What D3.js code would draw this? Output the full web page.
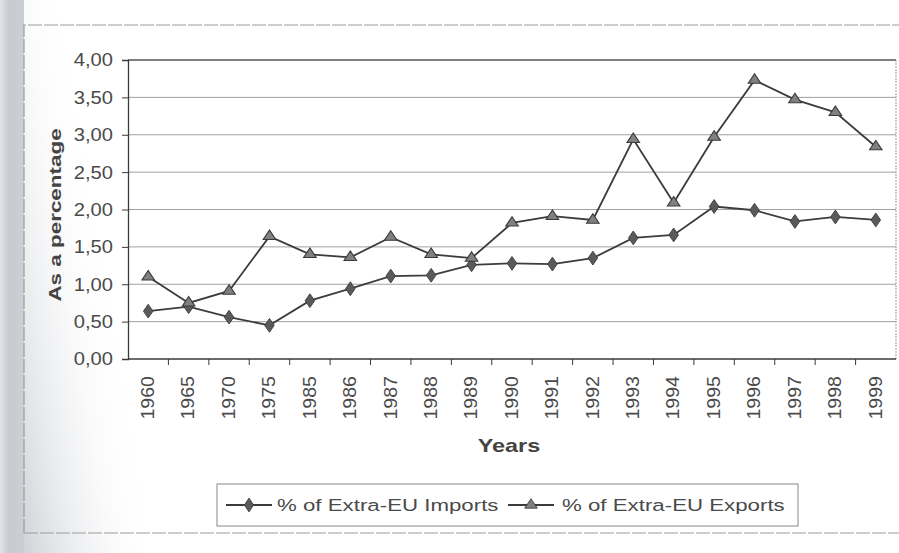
<html>
<head>
  <script src="https://d3js.org/d3.v7.min.js"></script>
  <style>
  body{ margin:0; background:#fff; }
  svg{ display:block; font-family:"Liberation Sans", Arial, sans-serif; }
  </style>
</head>
<body>
  <svg id="chart"></svg>
  <script type="text/javascript">
    // values
    var years = ["1960","1965","1970","1975","1985","1986","1987","1988","1989","1990",
                 "1991","1992","1993","1994","1995","1996","1997","1998","1999"];
    var imports = [0.64,0.70,0.56,0.45,0.78,0.94,1.11,1.12,1.26,1.28,
                   1.27,1.35,1.62,1.66,2.04,1.99,1.84,1.90,1.86];
    var exports = [1.10,0.75,0.91,1.64,1.40,1.36,1.63,1.40,1.35,1.82,
                   1.91,1.86,2.94,2.09,2.97,3.73,3.47,3.30,2.84];
    var yTicks = [0,0.5,1,1.5,2,2.5,3,3.5,4];
    var seriesNames = ["% of Extra-EU Imports","% of Extra-EU Exports"];

    var width = 899, height = 553;
    var plotL = 128, plotR = 896, plotT = 60, plotB = 359;
    var ink = "#3a3a3a";
    var textCol = "#4a4a4a";

    var svg = d3.select("#chart").attr("width", width).attr("height", height);

    // scan shadow on the left edge
    var defs = svg.append("defs");
    var g1 = defs.append("linearGradient").attr("id","edge");
    g1.append("stop").attr("offset","0%").attr("stop-color","#e2e4e8");
    g1.append("stop").attr("offset","35%").attr("stop-color","#c8ccd1");
    g1.append("stop").attr("offset","100%").attr("stop-color","#cbcfd4");
    var g2 = defs.append("linearGradient").attr("id","fade")
        .attr("x1","0").attr("y1","1").attr("x2","0.7").attr("y2","0.45");
    g2.append("stop").attr("offset","0%").attr("stop-color","#c4c8ce").attr("stop-opacity",0.8);
    g2.append("stop").attr("offset","100%").attr("stop-color","#ffffff").attr("stop-opacity",0);

    svg.append("rect").attr("x",0).attr("y",0).attr("width",24).attr("height",height).attr("fill","url(#edge)");
    svg.append("rect").attr("x",24).attr("y",0).attr("width",120).attr("height",height).attr("fill","url(#fade)");

    // outer chart frame
    svg.append("path")
       .attr("d","M24,533 L24,25 L899,25 M24,533 L899,533")
       .attr("fill","none").attr("stroke","#9c9c9c").attr("stroke-width",1.2)
       .attr("stroke-dasharray","14,2");

    var x = d3.scaleBand().domain(years).range([plotL, plotR]).padding(0);
    var y = d3.scaleLinear().domain([0, 4]).range([plotB, plotT]);
    var cx = function(d){ return x(d) + x.bandwidth()/2; };

    // gridlines
    svg.append("g").selectAll("line")
       .data(yTicks.slice(1))
       .enter().append("line")
       .attr("x1", plotL).attr("x2", plotR)
       .attr("y1", function(d){ return y(d); })
       .attr("y2", function(d){ return y(d); })
       .attr("stroke", function(d){ return d === 4 ? "#555" : "#a0a0a0"; })
       .attr("stroke-width", function(d){ return d === 4 ? 1.4 : 1; });

    // right border of plot
    svg.append("line").attr("x1",plotR).attr("x2",plotR).attr("y1",plotT).attr("y2",plotB)
       .attr("stroke","#999").attr("stroke-dasharray","2,1");

    // y axis
    var yAxis = d3.axisLeft(y).tickValues(yTicks).tickSize(6).tickFormat("");
    var ya = svg.append("g").attr("transform","translate(" + plotL + ",0)").call(yAxis);
    ya.select(".domain").attr("stroke", ink).attr("stroke-width",1.3);
    ya.selectAll(".tick line").attr("stroke", ink);

    svg.append("g").selectAll("text")
       .data(yTicks)
       .enter().append("text")
       .attr("transform", function(d){ return "translate(113," + y(d) + ") scale(1.12,1)"; })
       .attr("dy","0.36em")
       .attr("text-anchor","end")
       .style("font-size","18px")
       .attr("fill",textCol)
       .text(function(d){ return d.toFixed(2).replace(".", ","); });

    // x axis with ticks between categories
    svg.append("line").attr("x1",plotL).attr("x2",plotR).attr("y1",plotB).attr("y2",plotB)
       .attr("stroke", ink).attr("stroke-width",1.3);
    svg.append("g").selectAll("line")
       .data(years.slice(1))
       .enter().append("line")
       .attr("x1", function(d){ return x(d); })
       .attr("x2", function(d){ return x(d); })
       .attr("y1", plotB).attr("y2", plotB + 6)
       .attr("stroke", ink);

    svg.append("g").selectAll("text")
       .data(years)
       .enter().append("text")
       .attr("transform", function(d){ return "translate(" + cx(d) + ",376) rotate(-90) scale(1.12,1)"; })
       .attr("dy","0.33em")
       .attr("text-anchor","end")
       .style("font-size","17.5px")
       .attr("fill",textCol)
       .text(function(d){ return d; });

    // axis titles
    svg.append("text")
       .attr("transform","translate(509,452) scale(1.3,1)")
       .attr("text-anchor","middle")
       .style("font-size","18px").style("font-weight","bold")
       .attr("fill","#444")
       .text("Years");
    svg.append("text")
       .attr("transform","translate(61,215) rotate(-90) scale(1.32,1)")
       .attr("text-anchor","middle")
       .style("font-size","17px").style("font-weight","bold")
       .attr("fill","#444")
       .text("As a percentage");

    // lines
    var line = d3.line()
        .x(function(d,i){ return cx(years[i]); })
        .y(function(d){ return y(d); });

    svg.append("path").datum(imports)
       .attr("d", line).attr("fill","none").attr("stroke","#3c3c3c").attr("stroke-width",1.8);
    svg.append("path").datum(exports)
       .attr("d", line).attr("fill","none").attr("stroke","#3c3c3c").attr("stroke-width",1.8);

    var diamond = d3.symbol().type(d3.symbolDiamond).size(55);
    var triangle = d3.symbol().type(d3.symbolTriangle).size(52);

    svg.append("g").selectAll("path")
       .data(imports)
       .enter().append("path")
       .attr("d", diamond)
       .attr("transform", function(d,i){ return "translate(" + cx(years[i]) + "," + y(d) + ") scale(1.2,1)"; })
       .attr("fill","#5a5a5a").attr("stroke","#3a3a3a").attr("stroke-width",0.8);

    svg.append("g").selectAll("path")
       .data(exports)
       .enter().append("path")
       .attr("d", triangle)
       .attr("transform", function(d,i){ return "translate(" + cx(years[i]) + "," + y(d) + ") scale(1.15,1)"; })
       .attr("fill","#808080").attr("stroke","#3a3a3a").attr("stroke-width",1);

    // legend
    var lg = svg.append("g");
    lg.append("rect").attr("x",217).attr("y",484).attr("width",581).attr("height",42)
      .attr("fill","#fff").attr("stroke","#888").attr("stroke-width",1);

    var legendX = [226, 508];
    var legendText = [277, 562];
    var lgItems = lg.selectAll("g.item")
       .data(seriesNames)
       .enter().append("g").attr("class","item");
    lgItems.append("line")
       .attr("x1", function(d,i){ return legendX[i]; })
       .attr("x2", function(d,i){ return legendX[i] + 46; })
       .attr("y1",505).attr("y2",505)
       .attr("stroke","#3c3c3c").attr("stroke-width",1.8);
    lgItems.append("path")
       .attr("d", function(d,i){ return i === 0 ? diamond() : triangle(); })
       .attr("transform", function(d,i){ return "translate(" + (legendX[i] + 23) + ",505) scale(1.15,1)"; })
       .attr("fill", function(d,i){ return i === 0 ? "#5a5a5a" : "#808080"; })
       .attr("stroke","#3a3a3a").attr("stroke-width",0.8);
    lgItems.append("text")
       .attr("transform", function(d,i){ return "translate(" + legendText[i] + ",511) scale(1.35,1)"; })
       .style("font-size","16.5px")
       .attr("fill",textCol)
       .text(function(d){ return d; });
  </script>
</body>
</html>
